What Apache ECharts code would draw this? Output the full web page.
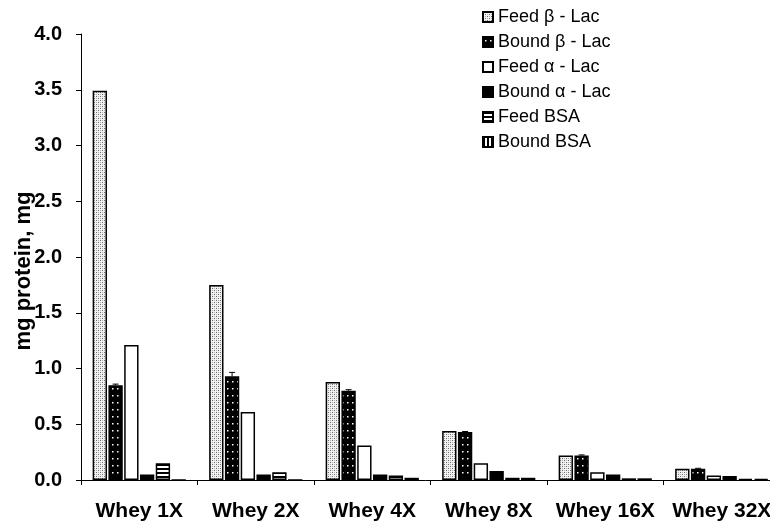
<!DOCTYPE html>
<html><head><meta charset="utf-8">
<script src="https://cdn.jsdelivr.net/npm/echarts@6/dist/echarts.min.js"></script>
<style>html,body{margin:0;padding:0;background:#fff}#c{width:770px;height:524px}</style>
</head><body><div id="c"></div>
<script>
const categories = ['Whey 1X','Whey 2X','Whey 4X','Whey 8X','Whey 16X','Whey 32X'];
const feedBetaLac  = [3.49, 1.75, 0.88, 0.44, 0.22, 0.10];
const boundBetaLac = [0.85, 0.93, 0.80, 0.43, 0.22, 0.10];
const feedAlphaLac = [1.21, 0.61, 0.31, 0.15, 0.07, 0.04];
const boundAlphaLac= [0.05, 0.05, 0.05, 0.08, 0.05, 0.035];
const feedBSA      = [0.15, 0.07, 0.04, 0.02, 0.015, 0.01];
const boundBSA     = [0, 0, 0.02, 0.02, 0.015, 0.01];
const boundBetaErr = [0.01, 0.035, 0.01, 0.005, 0.005, 0.005];
const yTicks = [0, 0.5, 1.0, 1.5, 2.0, 2.5, 3.0, 3.5, 4.0];

function tile(w, h, draw) {
  const c = document.createElement('canvas'); c.width = w; c.height = h;
  const g = c.getContext('2d'); draw(g, w, h); return c;
}
const patFeedBeta = tile(4, 4, (g) => {
  g.fillStyle = '#f2f2f2'; g.fillRect(0,0,4,4);
  g.fillStyle = '#6a6a6a'; g.fillRect(0,0,1,1); g.fillRect(2,2,1,1);
  g.fillStyle = '#b0b0b0'; g.fillRect(2,0,1,1); g.fillRect(0,2,1,1);
});
const patBoundBeta = tile(5, 7, (g) => {
  g.fillStyle = '#000'; g.fillRect(0,0,5,7);
  g.fillStyle = '#fff'; g.fillRect(2,3,1.5,1.5);
});
const patFeedBSA = tile(4, 4, (g) => {
  g.fillStyle = '#fff'; g.fillRect(0,0,4,4);
  g.fillStyle = '#000'; g.fillRect(0,0,4,2);
});
const patBoundBSA = tile(4, 4, (g) => {
  g.fillStyle = '#fff'; g.fillRect(0,0,4,4);
  g.fillStyle = '#000'; g.fillRect(0,0,2,4);
});

const font = 'Liberation Sans, Arial, sans-serif';
function bar(name, data, color) {
  return {
    name, type: 'bar', data, barGap: '10%', barCategoryGap: '20%',
    itemStyle: { color, borderColor: '#000', borderWidth: 1.5 },
    emphasis: { disabled: true }, animation: false
  };
}
const chart = echarts.init(document.getElementById('c'), null, { renderer: 'canvas' });
chart.setOption({
  animation: false,
  backgroundColor: '#fff',
  grid: { left: 81, top: 34, bottom: 44, right: -10, containLabel: false, outerBoundsMode: 'none' },
  legend: {
    orient: 'vertical', left: 477, top: 3, itemWidth: 10, itemHeight: 10, itemGap: 7,
    icon: 'rect', selectedMode: false,
    textStyle: { fontFamily: font, fontSize: 18, color: '#000', lineHeight: 18 },
    data: ['Feed β - Lac','Bound β - Lac','Feed α - Lac','Bound α - Lac','Feed BSA','Bound BSA']
  },
  xAxis: {
    type: 'category', data: categories,
    axisLine: { lineStyle: { color: '#000', width: 1 } },
    axisTick: { show: true, length: 5, inside: false, lineStyle: { color: '#000' } },
    axisLabel: { interval: 0, hideOverlap: false, fontFamily: font, fontSize: 21, fontWeight: 'bold', color: '#000', margin: 21 }
  },
  yAxis: {
    type: 'value', min: 0, max: 4, interval: 0.5,
    name: 'mg protein, mg', nameLocation: 'middle', nameGap: 46, nameMoveOverlap: false,
    nameTextStyle: { fontFamily: font, fontSize: 22, fontWeight: 'bold', color: '#000', padding: [0, 28, 0, 0] },
    axisLine: { show: true, lineStyle: { color: '#000', width: 1 } },
    axisTick: { show: true, length: 5, lineStyle: { color: '#000' } },
    splitLine: { show: false },
    axisLabel: { fontFamily: font, fontSize: 20, fontWeight: 'bold', color: '#000', margin: 19,
      formatter: v => yTicks.includes(v) ? v.toFixed(1) : '' }
  },
  series: [
    bar('Feed β - Lac', feedBetaLac, { image: patFeedBeta, repeat: 'repeat' }),
    bar('Bound β - Lac', boundBetaLac, { image: patBoundBeta, repeat: 'repeat' }),
    bar('Feed α - Lac', feedAlphaLac, '#fff'),
    bar('Bound α - Lac', boundAlphaLac, '#000'),
    bar('Feed BSA', feedBSA, { image: patFeedBSA, repeat: 'repeat' }),
    bar('Bound BSA', boundBSA, { image: patBoundBSA, repeat: 'repeat' }),
    {
      type: 'custom', silent: true, animation: false, z: 10,
      data: boundBetaLac.map((v, i) => [i, v, boundBetaErr[i]]),
      renderItem: (params, api) => {
        const i = api.value(0), v = api.value(1), e = api.value(2);
        const catW = api.size([1, 0])[0];
        const bw = catW * 0.8 / 6.5;
        const c = api.coord([i, v]);
        const x = c[0] - catW * 0.4 + 1 * 1.1 * bw + bw / 2;
        const yTop = api.coord([i, v + e])[1];
        return { type: 'group', children: [
          { type: 'line', shape: { x1: x, y1: c[1], x2: x, y2: yTop }, style: { stroke: '#000', lineWidth: 1 } },
          { type: 'line', shape: { x1: x - 3, y1: yTop, x2: x + 3, y2: yTop }, style: { stroke: '#000', lineWidth: 1 } }
        ]};
      }
    }
  ]
});
</script></body></html>
